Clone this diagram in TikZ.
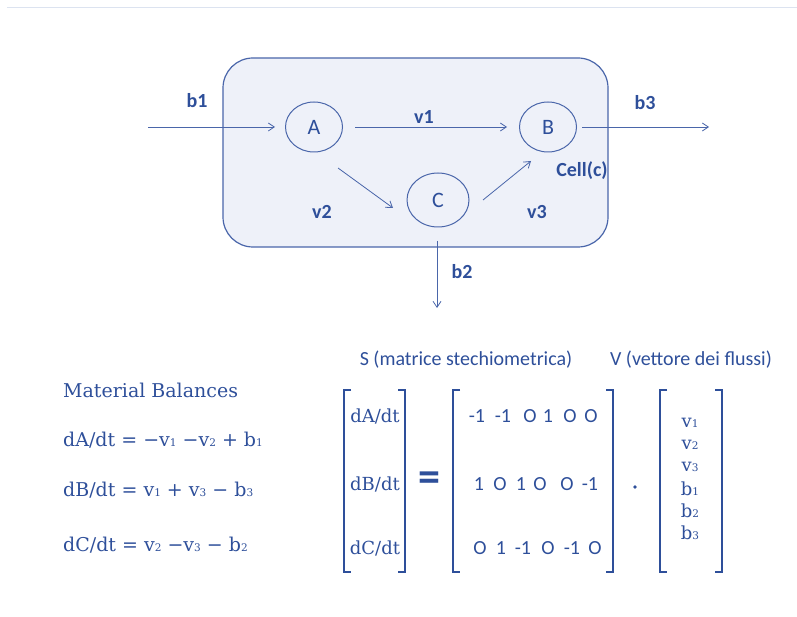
\documentclass[tikz,border=0pt]{standalone}
\usepackage{fontspec}
\setmainfont{DejaVu Serif}
\newfontfamily\lab{Carlito}
\newfontfamily\slab{DejaVu Serif}
\usetikzlibrary{arrows.meta,shapes.geometric}
\definecolor{ink}{HTML}{2E4F9A}
\definecolor{edge}{HTML}{4A66AA}
\definecolor{cellfill}{HTML}{EEF1F9}
\definecolor{topline}{HTML}{DCE3F0}
\newcommand{\sbn}[1]{{\fontsize{10.5}{10.5}\selectfont #1}}
\tikzset{
  metab/.style={draw=edge, line width=1pt, ellipse, minimum width=57pt, minimum height=50pt, inner sep=0pt, font=\lab\fontsize{22}{22}\selectfont, text=ink},
  flow/.style={draw=edge, line width=0.8pt, -{Straight Barb[length=6pt,width=8pt]}},
  flab/.style={font=\lab\bfseries\fontsize{20}{20}\selectfont, text=ink},
  eq/.style={font=\slab\fontsize{19}{19}\selectfont, text=ink, anchor=west, inner sep=0pt},
  head/.style={font=\lab\fontsize{20}{20}\selectfont, text=ink, inner sep=0pt},
  num/.style={font=\lab\fontsize{20}{20}\selectfont, text=ink, inner sep=0pt},
  vec/.style={font=\slab\fontsize{18}{18}\selectfont, text=ink, inner sep=0pt},
  brk/.style={draw=ink, line width=2.2pt},
}
\begin{document}
\begin{tikzpicture}[x=1pt,y=-1pt]
\useasboundingbox (0,0) rectangle (797,617);
\draw[topline, line width=1pt] (7,8) -- (797,8);
% cell
\draw[edge, fill=cellfill, line width=1.2pt, rounded corners=30pt] (223,58) rectangle (608,247);
\node[metab] (A) at (314,127) {A};
\node[metab] (B) at (548,127) {B};
\node[metab, minimum width=62pt, minimum height=54pt] (C) at (438,200) {C};
\coordinate (in) at (148,127);
\coordinate (out) at (709,127);
\coordinate (down) at (437,308);
\draw[flow] (in) -- ([xshift=-10pt]A.west);
\draw[flow] ([xshift=12pt]A.east) -- ([xshift=-12pt]B.west);
\draw[flow] ([xshift=5pt]B.east) -- (out);
\draw[flow] (338,168) -- (393,208);
\draw[flow] (483,200) -- (531,161);
\draw[flow] (437,241) -- (down);
\node[flab] (lb1) at (197,101) {b1};
\node[flab] (lv1) at (424,117) {v1};
\node[flab] (lb3) at (645,103) {b3};
\node[flab] (lv2) at (322,212) {v2};
\node[flab] (lv3) at (537,212) {v3};
\node[flab] (lcell) at (582,171) {Cell(c)};
\node[flab] (lb2) at (462,272) {b2};
% balances
\node[eq] (mb) at (63,390) {Material Balances};
\node[eq] (e1) at (63,440) {dA/dt = −v\sbn{1} −v\sbn{2} + b\sbn{1}};
\node[eq] (e2) at (63,490) {dB/dt = v\sbn{1} + v\sbn{3} − b\sbn{3}};
\node[eq] (e3) at (63,545) {dC/dt = v\sbn{2} −v\sbn{3} − b\sbn{2}};
% headers
\node[head] (hS) at (466,360) {S (matrice stechiometrica)};
\node[head] (hV) at (691,360) {V (vettore dei flussi)};
% brackets
\draw[brk] (351,390) -- (344,390) -- (344,572) -- (351,572);
\draw[brk] (398,390) -- (405,390) -- (405,572) -- (398,572);
\draw[brk] (460,390) -- (453,390) -- (453,572) -- (460,572);
\draw[brk] (606,390) -- (613,390) -- (613,572) -- (606,572);
\draw[brk] (667,390) -- (660,390) -- (660,572) -- (667,572);
\draw[brk] (715,390) -- (722,390) -- (722,572) -- (715,572);
\node[vec] (d1) at (375,416) {dA/dt};
\node[vec] (d2) at (375,484) {dB/dt};
\node[vec] (d3) at (375,548) {dC/dt};
\node[font=\lab\bfseries\fontsize{44}{44}\selectfont, text=ink] (eqs) at (429,482) {=};
\foreach \x/\t [count=\i] in {477/-1,503/-1,530/O,548/1,570/O,591/O}
  \node[num] (r1c\i) at (\x,416) {\t};
\foreach \x/\t [count=\i] in {479/1,500/O,521/1,540/O,567/O,590/-1}
  \node[num] (r2c\i) at (\x,484) {\t};
\foreach \x/\t [count=\i] in {480/O,501/1,523/-1,548/O,572/-1,595/O}
  \node[num] (r3c\i) at (\x,548) {\t};
\fill[ink] (635,487) circle (1.8pt);
\node[vec] (x1) at (690,423) {v\sbn{1}};
\node[vec] (x2) at (690,445) {v\sbn{2}};
\node[vec] (x3) at (690,467) {v\sbn{3}};
\node[vec] (x4) at (690,489) {b\sbn{1}};
\node[vec] (x5) at (690,511) {b\sbn{2}};
\node[vec] (x6) at (690,533) {b\sbn{3}};
\end{tikzpicture}
\end{document}
